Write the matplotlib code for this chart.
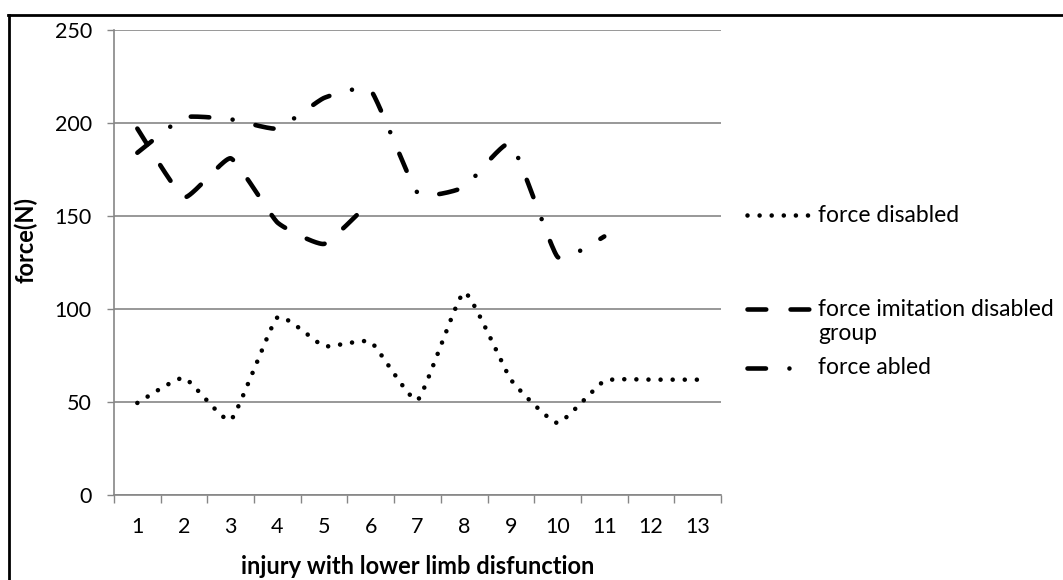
import numpy as np
import matplotlib.pyplot as plt
from matplotlib.lines import Line2D

plt.rcParams['font.family'] = ['Lato', 'DejaVu Sans']
plt.rcParams['lines.scale_dashes'] = False

# values
injury = list(range(1, 14))
force_disabled = [49.5, 63, 40.3, 95.5, 80, 82.3, 51, 109, 62, 38.7, 61.3, 62, 62]
force_imitation = [197, 160, 181, 146.5, 135, 158]
force_abled = [184, 203, 202, 197, 213.5, 217.5, 162.5, 165.5, 189, 128, 139]

labels = ['force disabled', 'force imitation disabled\ngroup', 'force abled']

W, H = 1063, 580
grey = '#868686'
lw = 3.3
dot_style = (0, (0.01, 8.7))
dash_style = (0, (13.5, 17.5))
dashdot_style = (0, (13.3, 16.9, 0.01, 16.9))


def smooth(x, y, k=0.07, n=40):
    # smoothed line, bezier segments with short control arms
    x = np.asarray(x, float)
    y = np.asarray(y, float)
    p = np.column_stack([x, y])
    p = np.vstack([p[0], p, p[-1]])
    t = np.linspace(0, 1, n)[:, None]
    pts = []
    for i in range(1, len(p) - 2):
        p0, p1, p2, p3 = p[i - 1], p[i], p[i + 1], p[i + 2]
        c1 = p1 + (p2 - p0) * k
        c2 = p2 - (p3 - p1) * k
        seg = ((1 - t) ** 3) * p1 + 3 * ((1 - t) ** 2) * t * c1 \
            + 3 * (1 - t) * t ** 2 * c2 + t ** 3 * p2
        pts.append(seg if i == 1 else seg[1:])
    pts = np.vstack(pts)
    return pts[:, 0], pts[:, 1]


fig = plt.figure(figsize=(W / 100, H / 100), dpi=100)
ax = fig.add_axes([114 / W, 1 - 495 / H, (721 - 114) / W, (495 - 30) / H])

sx, sy = smooth(injury, force_disabled)
ax.plot(sx, sy, color='black', lw=lw, linestyle=dot_style,
        dash_capstyle='round', solid_capstyle='round')
sx, sy = smooth(injury[:len(force_imitation)], force_imitation)
ax.plot(sx, sy, color='black', lw=lw, linestyle=dash_style,
        dash_capstyle='round')
sx, sy = smooth(injury[:len(force_abled)], force_abled)
ax.plot(sx, sy, color='black', lw=lw, linestyle=dashdot_style,
        dash_capstyle='round')

ax.set_xlim(0.5, 13.5)
ax.set_ylim(0, 250)
ax.set_yticks(range(0, 251, 50))
ax.yaxis.grid(True, color=grey, lw=1.2)
ax.set_axisbelow(True)
for s in ['top', 'right']:
    ax.spines[s].set_visible(False)
for s in ['left', 'bottom']:
    ax.spines[s].set_color(grey)
    ax.spines[s].set_linewidth(1.2)

ax.set_xticks(np.arange(0.5, 14, 1))
ax.set_xticklabels([])
ax.set_xticks(injury, minor=True)
ax.set_xticklabels([str(i) for i in injury], minor=True)
ax.tick_params(axis='x', which='major', length=6, width=1, color=grey)
ax.tick_params(axis='x', which='minor', length=0, pad=16, labelsize=15.5)
ax.tick_params(axis='y', length=5, width=1, color=grey, pad=11, labelsize=15.5)

fig.text(418 / W, 1 - 566 / H, 'injury with lower limb disfunction',
         ha='center', va='center', fontsize=17, fontweight='bold')
fig.text(26 / W, 1 - 240 / H, 'force(N)', rotation=90,
         ha='center', va='center', fontsize=17, fontweight='bold')

# legend drawn by hand so the handle sits on the first text line
leg = [(215, 747, 810, dot_style), (309, 747, 813, dash_style),
       (368, 747, 790, dashdot_style)]
for (yy, x0, x1, ls), lab in zip(leg, labels):
    fig.add_artist(Line2D([x0 / W, x1 / W], [1 - yy / H] * 2, color='black',
                          lw=lw, linestyle=ls, dash_capstyle='round'))
    for k, part in enumerate(lab.split('\n')):
        fig.text(818 / W, 1 - (yy + k * 25) / H, part, ha='left',
                 va='center', fontsize=16.5)

# frame edges
fig.add_artist(Line2D([8 / W, 1], [1 - 14.5 / H] * 2, color='black', lw=2))
fig.add_artist(Line2D([9 / W, 9 / W], [0, 1 - 14.5 / H], color='black', lw=2))

fig.savefig('out.png', dpi=100)
